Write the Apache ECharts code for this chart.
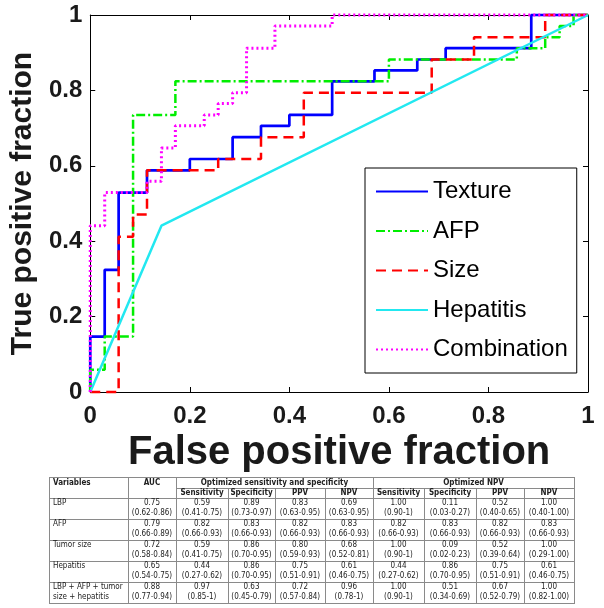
<!DOCTYPE html>
<html><head><meta charset="utf-8">
<script src="https://cdn.jsdelivr.net/npm/echarts@6/dist/echarts.min.js"></script>
<style>html,body{margin:0;padding:0;background:#fff}#c{width:604px;height:608px}</style>
</head><body><div id="c"></div>
<script>
// ---------- ROC data (false positive fraction / true positive fraction) ----------
const textureFPF = [0,0,0.029,0.029,0.057,0.057,0.114,0.114,0.2,0.2,0.286,0.286,0.343,0.343,0.4,0.4,0.486,0.486,0.571,0.571,0.657,0.657,0.714,0.714,0.886,0.886,1];
const textureTPF = [0,0.147,0.147,0.324,0.324,0.529,0.529,0.588,0.588,0.618,0.618,0.676,0.676,0.706,0.706,0.735,0.735,0.824,0.824,0.853,0.853,0.882,0.882,0.912,0.912,1,1];
const afpFPF = [0,0,0.029,0.029,0.086,0.086,0.171,0.171,0.6,0.6,0.857,0.857,0.914,0.914,0.943,0.943,0.971,0.971,1];
const afpTPF = [0,0.059,0.059,0.147,0.147,0.735,0.735,0.824,0.824,0.882,0.882,0.912,0.912,0.941,0.941,0.971,0.971,1,1];
const sizeFPF = [0,0.057,0.057,0.086,0.086,0.114,0.114,0.257,0.257,0.343,0.343,0.429,0.429,0.686,0.686,0.771,0.771,0.914,0.914,1];
const sizeTPF = [0,0,0.412,0.412,0.471,0.471,0.588,0.588,0.618,0.618,0.676,0.676,0.794,0.794,0.882,0.882,0.941,0.941,1,1];
const hepatitisFPF = [0,0.143,1];
const hepatitisTPF = [0,0.441,1];
const combinationFPF = [0,0,0.029,0.029,0.114,0.114,0.143,0.143,0.171,0.171,0.229,0.229,0.257,0.257,0.286,0.286,0.314,0.314,0.371,0.371,0.486,0.486,1];
const combinationTPF = [0,0.441,0.441,0.529,0.529,0.559,0.559,0.647,0.647,0.706,0.706,0.735,0.735,0.765,0.765,0.794,0.794,0.912,0.912,0.971,0.971,1,1];
const seriesNames = ['Texture','AFP','Size','Hepatitis','Combination'];
const axisTicks = [0,0.2,0.4,0.6,0.8,1];

// ---------- table data ----------
const tableTopHeaders = ['Variables','AUC','Optimized sensitivity and specificity','Optimized NPV'];
const tableSubHeaders = ['Sensitivity','Specificity','PPV','NPV','Sensitivity','Specificity','PPV','NPV'];
const variables = ['LBP','AFP','Tumor size','Hepatitis','LBP + AFP + tumor\nsize + hepatitis'];
const aucCol  = ['0.75\n(0.62-0.86)','0.79\n(0.66-0.89)','0.72\n(0.58-0.84)','0.65\n(0.54-0.75)','0.88\n(0.77-0.94)'];
const sensOpt = ['0.59\n(0.41-0.75)','0.82\n(0.66-0.93)','0.59\n(0.41-0.75)','0.44\n(0.27-0.62)','0.97\n(0.85-1)'];
const specOpt = ['0.89\n(0.73-0.97)','0.83\n(0.66-0.93)','0.86\n(0.70-0.95)','0.86\n(0.70-0.95)','0.63\n(0.45-0.79)'];
const ppvOpt  = ['0.83\n(0.63-0.95)','0.82\n(0.66-0.93)','0.80\n(0.59-0.93)','0.75\n(0.51-0.91)','0.72\n(0.57-0.84)'];
const npvOpt  = ['0.69\n(0.63-0.95)','0.83\n(0.66-0.93)','0.68\n(0.52-0.81)','0.61\n(0.46-0.75)','0.96\n(0.78-1)'];
const sensNpv = ['1.00\n(0.90-1)','0.82\n(0.66-0.93)','1.00\n(0.90-1)','0.44\n(0.27-0.62)','1.00\n(0.90-1)'];
const specNpv = ['0.11\n(0.03-0.27)','0.83\n(0.66-0.93)','0.09\n(0.02-0.23)','0.86\n(0.70-0.95)','0.51\n(0.34-0.69)'];
const ppvNpv  = ['0.52\n(0.40-0.65)','0.82\n(0.66-0.93)','0.52\n(0.39-0.64)','0.75\n(0.51-0.91)','0.67\n(0.52-0.79)'];
const npvNpv  = ['1.00\n(0.40-1.00)','0.83\n(0.66-0.93)','1.00\n(0.29-1.00)','0.61\n(0.46-0.75)','1.00\n(0.82-1.00)'];

// ---------- build ----------
const chart = echarts.init(document.getElementById('c'), null, {renderer:'canvas'});
const pairs = (xs, ys) => xs.map((x, i) => [x, ys[i]]);
const FF = "'Liberation Sans', Arial, sans-serif";
const styles = [
  {color:'#0000ff', type:'solid', width:2.7},
  {color:'#00ee00', type:[9,3,2,3], width:2.5},
  {color:'#ff0000', type:[10,6], width:2.5},
  {color:'#22e8f0', type:'solid', width:2.5},
  {color:'#ff00ff', type:[2,3], width:3}
];
const dataSets = [
  pairs(textureFPF, textureTPF), pairs(afpFPF, afpTPF), pairs(sizeFPF, sizeTPF),
  pairs(hepatitisFPF, hepatitisTPF), pairs(combinationFPF, combinationTPF)
];
const series = seriesNames.map((n, i) => ({
  name:n, type:'line', data:dataSets[i], symbol:'none', showSymbol:false, clip:false,
  lineStyle:{color:styles[i].color, type:styles[i].type, width:styles[i].width},
  itemStyle:{color:styles[i].color}, z:2+i
}));

function valAxis(pos, isX, showLabel) {
  return {
    type:'value', min:axisTicks[0], max:axisTicks[axisTicks.length-1], interval:0.2, position:pos,
    axisLine:{show:true, onZero:false, lineStyle:{color:'#000', width:1}},
    axisTick:{show:true, inside:true, length:5, lineStyle:{color:'#000', width:1}},
    splitLine:{show:false},
    axisLabel:{show:showLabel, fontSize:24, fontWeight:'bold', fontFamily:FF, color:'#1a1a1a', margin:isX?12:8}
  };
}
const xMain = valAxis('bottom', true, true);
xMain.name = 'False positive fraction'; xMain.nameLocation = 'middle'; xMain.nameGap = 36;
xMain.nameTextStyle = {fontSize:40, fontWeight:'bold', fontFamily:FF, color:'#1a1a1a'};
const yMain = valAxis('left', false, true);
yMain.name = 'True positive fraction'; yMain.nameLocation = 'middle'; yMain.nameGap = 49;
yMain.nameTextStyle = {fontSize:30, fontWeight:'bold', fontFamily:FF, color:'#1a1a1a'};

// table geometry
const colX = [49, 128, 176, 228, 275, 325, 373, 424, 476, 524, 574];
const tTop = 477, tSub = 488, tHead = 497.5;
const rowBottoms = [518.5, 539.5, 560.5, 581.5, 602.5];
const LINE = '#8a8a8a';
const TF = "'Liberation Sans Narrow', 'DejaVu Sans Condensed', Lato, sans-serif";
const fs = 8, lh = 9.5;
const g = [];
function hl(x1, x2, y) { g.push({type:'line', shape:{x1, y1:Math.round(y)+0.5, x2, y2:Math.round(y)+0.5}, style:{stroke:LINE, lineWidth:1}, silent:true}); }
function vl(x, y1, y2) { g.push({type:'line', shape:{x1:Math.round(x)+0.5, y1, x2:Math.round(x)+0.5, y2}, style:{stroke:LINE, lineWidth:1}, silent:true}); }
function tx(text, x, y, align, bold) {
  g.push({type:'text', silent:true, style:{text, x, y, textAlign:align, align, textVerticalAlign:'top', verticalAlign:'top',
    font:(bold?'bold ':'') + fs + 'px ' + TF, fill:'#222', lineHeight:lh}});
}
const yTop = Math.round(tTop)+0.5, yBot = Math.round(rowBottoms[rowBottoms.length-1])+0.5;
hl(colX[0], colX[10]+1, tTop);
hl(colX[2], colX[10]+1, tSub);
hl(colX[0], colX[10]+1, tHead);
rowBottoms.forEach(y => hl(colX[0], colX[10]+1, y));
[0,1,2,6,10].forEach(i => vl(colX[i], yTop, yBot));
[3,4,5,7,8,9].forEach(i => vl(colX[i], Math.round(tSub)+0.5, yBot));
tx(tableTopHeaders[0], colX[0]+4, tTop+0.8, 'left', true);
tx(tableTopHeaders[1], (colX[1]+colX[2])/2, tTop+0.8, 'center', true);
tx(tableTopHeaders[2], (colX[2]+colX[6])/2, tTop+0.8, 'center', true);
tx(tableTopHeaders[3], (colX[6]+colX[10])/2, tTop+0.8, 'center', true);
tableSubHeaders.forEach((h, i) => tx(h, (colX[2+i]+colX[3+i])/2, tSub+0.3, 'center', true));
const cols = [aucCol, sensOpt, specOpt, ppvOpt, npvOpt, sensNpv, specNpv, ppvNpv, npvNpv];
variables.forEach((v, r) => {
  const top = (r === 0 ? tHead : rowBottoms[r-1]) + 1;
  tx(v, colX[0]+4, top, 'left', false);
  cols.forEach((c, ci) => tx(c[r], (colX[1+ci]+colX[2+ci])/2, top, 'center', false));
});

const option = {
  animation:false,
  backgroundColor:'#fff',
  grid:{left:88, top:15, width:500, height:377, containLabel:false},
  xAxis:[xMain, valAxis('top', true, false)],
  yAxis:[yMain, valAxis('right', false, false)],
  legend:{
    orient:'vertical', left:365, top:168, data:seriesNames,
    padding:[11.5, 9, 11.5, 10], itemWidth:52, itemHeight:14, itemGap:15.5,
    itemStyle:{opacity:0},
    textStyle:{fontSize:24, fontFamily:FF, color:'#000'},
    borderColor:'#000', borderWidth:1, backgroundColor:'#fff', borderRadius:0
  },
  series,
  graphic:{elements:g}
};
chart.setOption(option);
</script></body></html>
